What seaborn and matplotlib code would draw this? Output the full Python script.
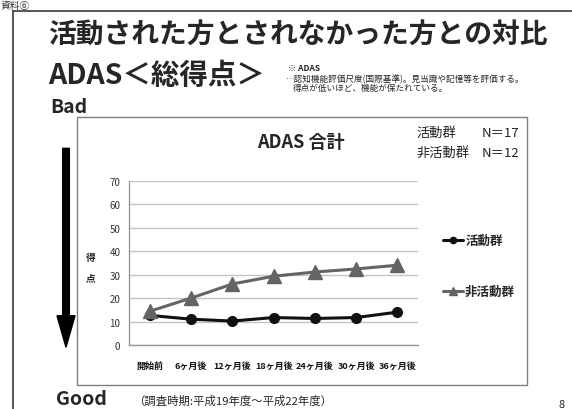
import matplotlib
matplotlib.use("Agg")
import matplotlib.pyplot as plt
from matplotlib.lines import Line2D
from matplotlib.patches import Rectangle, FancyArrow
from matplotlib.transforms import Affine2D
import pandas as pd
import seaborn as sns

# ADAS total score per survey point
periods = ["開始前", "6ヶ月後", "12ヶ月後", "18ヶ月後", "24ヶ月後", "30ヶ月後", "36ヶ月後"]
active = [12.6, 11.0, 10.2, 11.7, 11.3, 11.7, 14.0]
inactive = [14.4, 20.0, 26.0, 29.3, 31.1, 32.4, 34.0]
groups = ["活動群", "非活動群"]
colors = ["#111111", "#646464"]
y_ticks = [0, 10, 20, 30, 40, 50, 60, 70]

df = pd.DataFrame({
    "時期": periods * 2,
    "得点": active + inactive,
    "群": [groups[0]] * len(periods) + [groups[1]] * len(periods),
})

sns.set_theme(style="white")
plt.rcParams["font.family"] = ["Noto Sans CJK JP", "DejaVu Sans"]

W, H = 572, 410
fig = plt.figure(figsize=(W / 100, H / 100), dpi=100)
fig.patch.set_facecolor("white")


def fx(x):
    return x / W


def fy(y):
    return 1 - y / H


# plot area
ax = fig.add_axes([fx(129.3), fy(346), fx(418) - fx(129.3), fy(181.7) - fy(346)])
sns.pointplot(
    data=df, x="時期", y="得点", hue="群", order=periods, hue_order=groups,
    palette=dict(zip(groups, colors)), markers=["o", "^"], linestyles=["-", "-"],
    errorbar=None, linewidth=2.2, markersize=7, markeredgewidth=1, ax=ax,
)
for ln in ax.lines:
    if ln.get_marker() == "^":
        ln.set_markersize(9.5)
if ax.get_legend() is not None:
    ax.get_legend().remove()

ax.set_xlim(-0.5, len(periods) - 0.5)
ax.set_ylim(0, 70)
ax.set_yticks(y_ticks)
ax.set_xlabel("")
ax.set_ylabel("")
ax.grid(axis="y", color="#c4c4c4", linewidth=1)
ax.set_axisbelow(True)
for s in ["top", "right"]:
    ax.spines[s].set_visible(False)
for s in ["left", "bottom"]:
    ax.spines[s].set_color("#9a9a9a")
    ax.spines[s].set_linewidth(1)
ax.tick_params(axis="y", length=0, pad=6.5, labelsize=7, labelcolor="#333333")
ax.tick_params(axis="x", length=0, pad=11.5, labelsize=6.5, labelcolor="#111111")
for t in ax.get_xticklabels():
    t.set_fontweight("bold")
ax.set_facecolor("none")

# legend
handles = [
    Line2D([], [], color=colors[0], marker="o", linewidth=2.2, markersize=4.5),
    Line2D([], [], color=colors[1], marker="^", linewidth=2.2, markersize=5.5),
]
fig.legend(handles, groups, loc="center left", bbox_to_anchor=(fx(432), fy(267)),
           frameon=False, handlelength=1.6, handletextpad=0.15, labelspacing=3.05,
           prop={"size": 9, "weight": "bold"})

# chart frame
fig.add_artist(Rectangle((fx(77.3), fy(385.5)), fx(526.7) - fx(77.3), fy(118) - fy(385.5),
                         transform=fig.transFigure, fill=False, edgecolor="#7f7f7f", linewidth=1))
fig.text(fx(300.5), fy(143), "ADAS 合計", ha="center", va="center", fontsize=13, fontweight="bold")
fig.text(fx(416.7), fy(133.3), "活動群", ha="left", va="center", fontsize=9.5, color="#222222")
fig.text(fx(481.7), fy(133.3), "N＝17", ha="left", va="center", fontsize=9.5, color="#222222")
fig.text(fx(416.7), fy(153.3), "非活動群", ha="left", va="center", fontsize=9.5, color="#222222")
fig.text(fx(481.7), fy(153.3), "N＝12", ha="left", va="center", fontsize=9.5, color="#222222")
fig.text(fx(91), fy(258), "得", ha="center", va="center", fontsize=7, fontweight="bold")
fig.text(fx(91), fy(278), "点", ha="center", va="center", fontsize=7, fontweight="bold")

# slide frame and headings
fig.add_artist(Line2D([fx(13.3), 1], [fy(12.3), fy(12.3)], transform=fig.transFigure,
                      color="#3a3a3a", linewidth=1.2))
fig.add_artist(Line2D([fx(13.3), fx(13.3)], [0, fy(12.3)], transform=fig.transFigure,
                      color="#3a3a3a", linewidth=1.2))
fig.text(fx(1), fy(0.5), "資料⑥", ha="left", va="top", fontsize=7, color="#333333")
fig.text(fx(298), fy(35), "活動された方とされなかった方との対比", ha="center", va="center",
         fontsize=20, fontweight="bold")
fig.text(fx(48), fy(76), "ADAS＜総得点＞", ha="left", va="center", fontsize=20.5, fontweight="bold")
fig.text(fx(288), fy(68.3), "※ ADAS", ha="left", va="center", fontsize=6, fontweight="bold")
fig.text(fx(285), fy(79), "…認知機能評価尺度(国際基準)。見当識や記憶等を評価する。",
         ha="left", va="center", fontsize=6.2)
fig.text(fx(293), fy(88.3), "得点が低いほど、機能が保たれている。", ha="left", va="center", fontsize=6.2)
fig.text(fx(50), fy(107.5), "Bad", ha="left", va="center", fontsize=14, fontweight="bold")
fig.text(fx(56), fy(400), "Good", ha="left", va="center", fontsize=14, fontweight="bold")
fig.text(fx(133), fy(401), "（調査時期:平成19年度～平成22年度）", ha="left", va="center", fontsize=8.2)
fig.text(fx(562), fy(405), "8", ha="center", va="center", fontsize=8)

# Bad -> Good arrow (pixel units, origin bottom-left)
pix = Affine2D().scale(1 / W, 1 / H) + fig.transFigure
fig.add_artist(FancyArrow(66, H - 149.3, 0, -(348.3 - 149.3), width=6.7, head_width=18,
                          head_length=31.6, length_includes_head=True, color="black",
                          transform=pix))

fig.savefig("out.png", dpi=100)
